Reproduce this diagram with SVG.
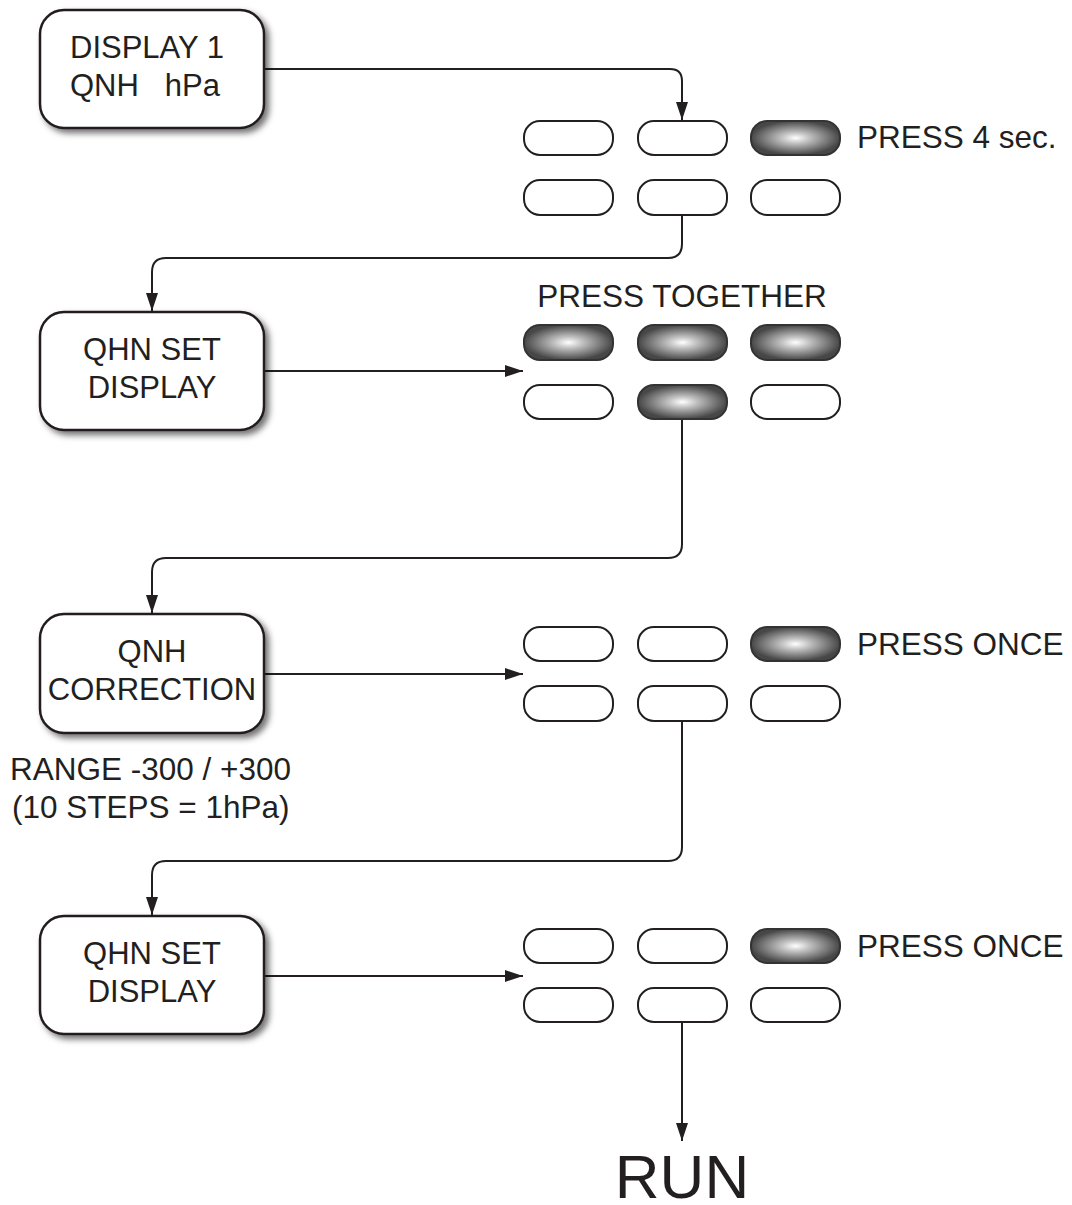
<svg xmlns="http://www.w3.org/2000/svg" width="1072" height="1205" viewBox="0 0 1072 1205">
<style>
.box{fill:#fff;stroke:#231f20;stroke-width:2.5}
.btn{fill:#fff;stroke:#231f20;stroke-width:2}
.on{fill:url(#glow);stroke:#333;stroke-width:2}
.t{font-family:"Liberation Sans",Arial,sans-serif;font-size:31px;fill:#231f20}
.l{font-family:"Liberation Sans",Arial,sans-serif;font-size:31.5px;fill:#231f20}
.c{fill:none;stroke:#231f20;stroke-width:2}
</style>
<defs>
<radialGradient id="glow" cx="0.5" cy="0.5" r="0.5">
<stop offset="0" stop-color="#ffffff"/>
<stop offset="0.3" stop-color="#c4c4c4"/>
<stop offset="1" stop-color="#474747"/>
</radialGradient>
<filter id="sh" x="-10%" y="-10%" width="130%" height="130%">
<feDropShadow dx="4" dy="4" stdDeviation="3" flood-color="#000" flood-opacity="0.55"/>
</filter>
<marker id="ahb" viewBox="0 0 18 12" refX="18" refY="6" markerWidth="18" markerHeight="12" markerUnits="userSpaceOnUse" orient="auto">
<path d="M0,0 L18,6 L0,12 Z" fill="#231f20"/>
</marker>
</defs>
<rect width="1072" height="1205" fill="#fff"/>

<g id="connectors">
<path class="c" d="M264,69 H670 Q682,69 682,81 V120" marker-end="url(#ahb)"/>
<path class="c" d="M682,215 V244 Q682,258 668,258 H166 Q152,258 152,272 V311" marker-end="url(#ahb)"/>
<path class="c" d="M264,371 H523" marker-end="url(#ahb)"/>
<path class="c" d="M682,419 V544 Q682,558 668,558 H166 Q152,558 152,572 V613" marker-end="url(#ahb)"/>
<path class="c" d="M264,674 H523" marker-end="url(#ahb)"/>
<path class="c" d="M682,721 V847 Q682,861 668,861 H166 Q152,861 152,875 V915" marker-end="url(#ahb)"/>
<path class="c" d="M264,976 H523" marker-end="url(#ahb)"/>
<path class="c" d="M682,1022 V1141" marker-end="url(#ahb)"/>
</g>

<g id="node-display1">
<rect class="box" x="40" y="10" width="224" height="118" rx="24" filter="url(#sh)"/>
<text class="t" x="70" y="58">DISPLAY 1</text>
<text class="t" x="70" y="96" xml:space="preserve">QNH   hPa</text>
</g>

<g id="node-qhn-set-1">
<rect class="box" x="40" y="312" width="224" height="118" rx="24" filter="url(#sh)"/>
<text class="t" x="152" y="360" text-anchor="middle">QHN SET</text>
<text class="t" x="152" y="398" text-anchor="middle">DISPLAY</text>
</g>

<g id="node-qnh-correction">
<rect class="box" x="40" y="614" width="224" height="119" rx="24" filter="url(#sh)"/>
<text class="t" x="152" y="662" text-anchor="middle">QNH</text>
<text class="t" x="152" y="700" text-anchor="middle">CORRECTION</text>
</g>

<g id="node-qhn-set-2">
<rect class="box" x="40" y="916" width="224" height="118" rx="24" filter="url(#sh)"/>
<text class="t" x="152" y="964" text-anchor="middle">QHN SET</text>
<text class="t" x="152" y="1002" text-anchor="middle">DISPLAY</text>
</g>

<g id="keypad-1">
<rect class="btn" x="524" y="121" width="89" height="34" rx="16"/>
<rect class="btn" x="638" y="121" width="89" height="34" rx="16"/>
<rect class="on" x="751" y="121" width="89" height="34" rx="16"/>
<rect class="btn" x="524" y="180" width="89" height="35" rx="16"/>
<rect class="btn" x="638" y="180" width="89" height="35" rx="16"/>
<rect class="btn" x="751" y="180" width="89" height="35" rx="16"/>
<text class="l" x="857" y="148">PRESS 4 sec.</text>
</g>

<g id="keypad-2">
<text class="l" x="682" y="307" text-anchor="middle">PRESS TOGETHER</text>
<rect class="on" x="524" y="325" width="89" height="35" rx="16"/>
<rect class="on" x="638" y="325" width="89" height="35" rx="16"/>
<rect class="on" x="751" y="325" width="89" height="35" rx="16"/>
<rect class="btn" x="524" y="385" width="89" height="34" rx="16"/>
<rect class="on" x="638" y="385" width="89" height="34" rx="16"/>
<rect class="btn" x="751" y="385" width="89" height="34" rx="16"/>
</g>

<g id="keypad-3">
<rect class="btn" x="524" y="627" width="89" height="34" rx="16"/>
<rect class="btn" x="638" y="627" width="89" height="34" rx="16"/>
<rect class="on" x="751" y="627" width="89" height="34" rx="16"/>
<rect class="btn" x="524" y="686" width="89" height="35" rx="16"/>
<rect class="btn" x="638" y="686" width="89" height="35" rx="16"/>
<rect class="btn" x="751" y="686" width="89" height="35" rx="16"/>
<text class="l" x="857" y="655">PRESS ONCE</text>
</g>

<g id="keypad-4">
<rect class="btn" x="524" y="929" width="89" height="34" rx="16"/>
<rect class="btn" x="638" y="929" width="89" height="34" rx="16"/>
<rect class="on" x="751" y="929" width="89" height="34" rx="16"/>
<rect class="btn" x="524" y="988" width="89" height="34" rx="16"/>
<rect class="btn" x="638" y="988" width="89" height="34" rx="16"/>
<rect class="btn" x="751" y="988" width="89" height="34" rx="16"/>
<text class="l" x="857" y="957">PRESS ONCE</text>
</g>

<g id="range-note">
<text class="l" x="10" y="780">RANGE -300 / +300</text>
<text class="l" x="12" y="818">(10 STEPS = 1hPa)</text>
</g>

<g id="node-run">
<text x="682" y="1198" text-anchor="middle" font-family="'Liberation Sans',Arial,sans-serif" font-size="62" fill="#231f20">RUN</text>
</g>
</svg>
